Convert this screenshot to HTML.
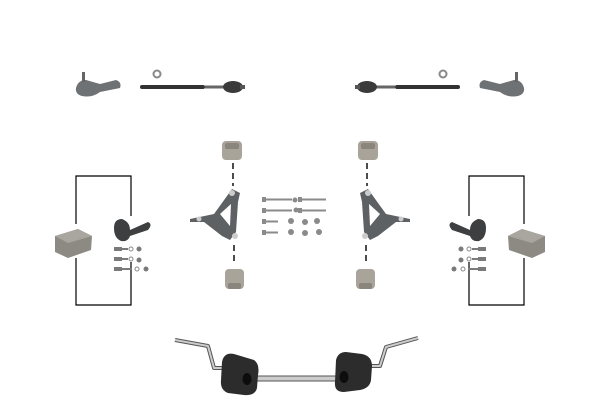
<!DOCTYPE html>
<html><head><style>html,body{margin:0;padding:0;background:#fff}svg{display:block}</style></head><body>
<svg width="600" height="400" viewBox="0 0 600 400" xmlns="http://www.w3.org/2000/svg">
<defs>
<g id="half">
  <path d="M76,88 Q78,80 86,80 L100,84 L116,80 Q122,82 120,88 L100,92 Q92,98 82,96 Q75,94 76,88Z" fill="#6f7275"/>
  <rect x="82" y="72" width="3" height="10" fill="#666"/>
  <circle cx="157" cy="74" r="3.5" fill="none" stroke="#888" stroke-width="2"/>
  <rect x="140" y="85" width="65" height="4" rx="2" fill="#333"/>
  <rect x="205" y="85.5" width="20" height="3" fill="#666"/>
  <ellipse cx="233" cy="87" rx="10" ry="6" fill="#3a3a3a"/>
  <rect x="240" y="85" width="5" height="4" fill="#555"/>
  <rect x="222" y="141" width="20" height="19" rx="4" fill="#a9a49a"/>
  <rect x="225" y="143" width="14" height="6" rx="2" fill="#8a857d"/>
  <line x1="233" y1="163" x2="233" y2="186" stroke="#111" stroke-width="1.5" stroke-dasharray="6,4"/>
  <path d="M190,219 L214,214 L232,189 L240,193 L238,202 L236,232 L230,240 L222,236 L204,222 L190,222Z M220,214 L230,226 L231,204Z" fill="#5e6163" fill-rule="evenodd"/>
  <circle cx="232" cy="193" r="3" fill="#ccc"/><circle cx="235" cy="236" r="3" fill="#ccc"/><circle cx="199" cy="219" r="2.5" fill="#ccc"/>
  <line x1="234" y1="245" x2="234" y2="265" stroke="#111" stroke-width="1.5" stroke-dasharray="6,4"/>
  <rect x="225" y="269" width="19" height="20" rx="4" fill="#a9a49a"/>
  <rect x="228" y="283" width="13" height="6" rx="2" fill="#8a857d"/>
  <path d="M76,224 L76,176 L131,176 L131,216 M131,262 L131,305 L76,305 L76,258" fill="none" stroke="#000" stroke-width="1.2"/>
  <path d="M55,236 L78,229 L92,236 L91,250 L68,258 L55,252Z" fill="#8d8a83"/>
  <path d="M55,236 L78,229 L92,236 L68,243Z" fill="#a9a69f"/>
  <path d="M114,228 Q114,219 122,219 Q130,222 130,230 L148,222 Q153,224 148,230 L130,236 Q128,242 121,241 Q114,238 114,228Z" fill="#3d3f41"/>
  <g fill="#7a7a7a">
   <rect x="114" y="247" width="8" height="4"/><rect x="122" y="248" width="6" height="2"/><circle cx="131" cy="249" r="2" fill="none" stroke="#888"/><circle cx="139" cy="249" r="2.5"/>
   <rect x="114" y="257" width="8" height="4"/><rect x="122" y="258" width="6" height="2"/><circle cx="131" cy="259" r="2" fill="none" stroke="#888"/><circle cx="139" cy="260" r="2.5"/>
   <rect x="114" y="267" width="8" height="4"/><rect x="122" y="268" width="10" height="2"/><circle cx="137" cy="269" r="2" fill="none" stroke="#888"/><circle cx="146" cy="269" r="2.5"/>
  </g>
</g>
</defs>
<use href="#half"/>
<use href="#half" transform="translate(600,0) scale(-1,1)"/>
<g fill="#8a8a8a">
 <rect x="262" y="197" width="4" height="5"/><rect x="266" y="198.5" width="26" height="2"/><circle cx="295" cy="200" r="2.5"/>
 <rect x="298" y="197" width="4" height="5"/><rect x="302" y="198.5" width="24" height="2"/>
 <rect x="262" y="208" width="4" height="5"/><rect x="266" y="209.5" width="26" height="2"/><circle cx="296" cy="210" r="2.5"/>
 <rect x="298" y="208" width="4" height="5"/><rect x="302" y="209.5" width="24" height="2"/>
 <rect x="262" y="219" width="4" height="5"/><rect x="266" y="220.5" width="12" height="2"/><circle cx="291" cy="221" r="3"/>
 <circle cx="305" cy="222" r="3"/><circle cx="317" cy="221" r="3"/>
 <rect x="262" y="230" width="4" height="5"/><rect x="266" y="231.5" width="12" height="2"/><circle cx="291" cy="232" r="3"/>
 <circle cx="305" cy="233" r="3"/><circle cx="319" cy="232" r="3"/>
</g>
<g fill="none" stroke-linejoin="round">
<path d="M175,340 L208,346 L214,368 L225,368" stroke="#555" stroke-width="4"/>
<path d="M175,340 L208,346 L214,368 L225,368" stroke="#ccc" stroke-width="2"/>
<path d="M370,366 L380,366 L386,347 L418,338" stroke="#555" stroke-width="4"/>
<path d="M370,366 L380,366 L386,347 L418,338" stroke="#ccc" stroke-width="2"/>
</g>
<rect x="255" y="376" width="82" height="5" fill="#ccc" stroke="#555" stroke-width="1"/>
<path d="M222,362 Q224,352 234,354 L254,360 Q260,364 258,375 L257,388 Q255,396 244,395 L228,393 Q220,390 221,380Z" fill="#2c2c2c"/>
<ellipse cx="247" cy="379" rx="4.5" ry="6" fill="#0d0d0d"/>
<path d="M336,360 Q338,352 346,352 L362,354 Q372,356 372,366 L371,380 Q370,388 360,390 L344,392 Q334,392 335,382Z" fill="#2c2c2c"/>
<ellipse cx="344" cy="377" rx="4.5" ry="6" fill="#0d0d0d"/>
</svg>
</body></html>
